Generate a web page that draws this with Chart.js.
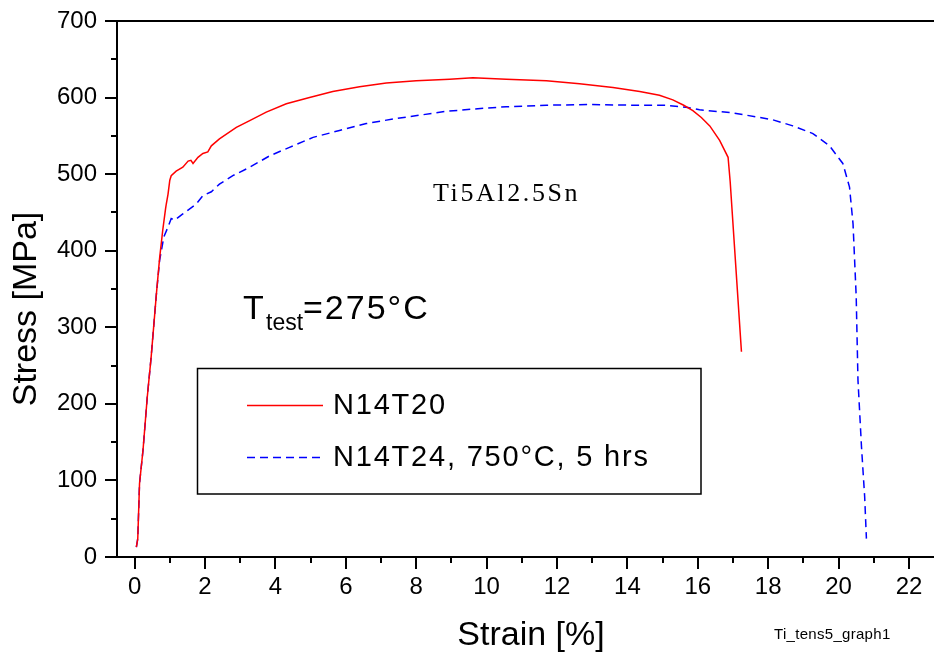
<!DOCTYPE html>
<html>
<head>
<meta charset="utf-8">
<script src="https://cdn.jsdelivr.net/npm/chart.js@4.4.1/dist/chart.umd.min.js"></script>
<style>
  html, body { margin: 0; padding: 0; background: #fff; }
  #wrap { width: 934px; height: 657px; }
</style>
</head>
<body>
<div id="wrap"><canvas id="myChart" width="934" height="657"></canvas></div>
<script>
// tensile curves, strain in %, stress in MPa
const strainN14T20 = [0.05, 0.09, 0.14, 0.24, 0.36, 0.47, 0.62, 0.71, 0.80, 0.88, 0.90, 0.95, 1.00, 1.04, 1.18, 1.37, 1.52, 1.60, 1.66, 1.80, 1.94, 2.08, 2.18, 2.41, 2.89, 3.27, 3.74, 4.31, 4.97, 5.63, 6.39, 7.15, 8.00, 8.95, 9.61, 10.56, 11.70, 12.64, 13.59, 14.35, 14.91, 15.29, 15.60, 15.86, 16.10, 16.34, 16.62, 16.86, 16.92, 17.24];
const stressN14T20 = [13, 24, 96, 140, 209, 261, 344, 390, 427, 455, 461, 474, 492, 498, 504, 509, 517, 518, 514, 522, 527, 529, 537, 546, 561, 570, 581, 592, 600, 608, 614, 619, 622, 624, 626, 624, 622, 618, 613, 608, 603, 597, 590, 583, 574, 563, 544, 522, 490, 268];

const strainN14T24 = [0.05, 0.09, 0.14, 0.24, 0.36, 0.47, 0.62, 0.71, 0.83, 0.95, 1.04, 1.14, 1.37, 1.75, 1.94, 2.18, 2.41, 2.79, 3.27, 3.84, 4.40, 5.07, 5.82, 6.58, 7.34, 8.10, 8.85, 9.61, 10.56, 11.70, 12.93, 14.16, 15.10, 15.72, 16.05, 17.00, 18.13, 18.70, 19.27, 19.74, 20.12, 20.31, 20.41, 20.50, 20.55, 20.65, 20.74, 20.79];
const stressN14T24 = [13, 24, 96, 140, 209, 261, 344, 387, 418, 431, 442, 440, 448, 461, 472, 477, 487, 498, 509, 524, 535, 548, 557, 566, 572, 577, 582, 585, 588, 590, 591, 590, 590, 587, 584, 580, 571, 563, 553, 537, 514, 483, 435, 340, 231, 144, 79, 24];

const seriesLabels = ['N14T20', 'N14T24, 750°C, 5 hrs'];
const strainTicks = [0, 2, 4, 6, 8, 10, 12, 14, 16, 18, 20, 22];
const stressTicks = [0, 100, 200, 300, 400, 500, 600, 700];

const SANS = '"Liberation Sans", Arial, sans-serif';
const SERIF = '"Liberation Serif", "Times New Roman", serif';

function toPoints(xs, ys) {
    return xs.map((x, i) => ({ x: x, y: ys[i] }));
}

// axis frame, inner/outer ticks, texts and the boxed legend
const decorations = {
    id: 'decorations',
    afterDraw(chart) {
        const ctx = chart.ctx;
        const xs = chart.scales.x;
        const ys = chart.scales.y;
        const area = chart.chartArea;
        ctx.save();
        ctx.strokeStyle = '#000';
        ctx.lineWidth = 2;

        // top frame line
        ctx.beginPath();
        ctx.moveTo(area.left - 12, area.top);
        ctx.lineTo(area.right, area.top);
        ctx.stroke();

        // y ticks: major every 100, minor in between
        for (let v = 0; v <= 700; v += 50) {
            const py = Math.round(ys.getPixelForValue(v));
            const len = stressTicks.includes(v) ? 12 : 6;
            ctx.beginPath();
            ctx.moveTo(area.left - len, py);
            ctx.lineTo(area.left, py);
            ctx.stroke();
        }
        // x ticks: major every 2, minor in between
        for (let v = 0; v <= 22; v += 1) {
            const px = Math.round(xs.getPixelForValue(v));
            const len = strainTicks.includes(v) ? 12 : 6;
            ctx.beginPath();
            ctx.moveTo(px, area.bottom);
            ctx.lineTo(px, area.bottom + len);
            ctx.stroke();
        }

        ctx.fillStyle = '#000';
        ctx.textAlign = 'center';
        ctx.textBaseline = 'middle';

        // axis titles
        ctx.font = '34px ' + SANS;
        ctx.fillText('Strain [%]', 531, 636);
        ctx.save();
        ctx.translate(27, 309);
        ctx.rotate(-Math.PI / 2);
        ctx.fillText('Stress [MPa]', 0, 0);
        ctx.restore();

        // alloy name
        ctx.textAlign = 'left';
        ctx.textBaseline = 'alphabetic';
        ctx.font = '26px ' + SERIF;
        ctx.letterSpacing = '2.6px';
        ctx.fillText('Ti5Al2.5Sn', 433, 201);

        // test temperature
        ctx.font = '34px ' + SANS;
        ctx.letterSpacing = '0px';
        ctx.fillText('T', 243, 319);
        ctx.font = '23px ' + SANS;
        ctx.fillText('test', 266, 330);
        ctx.font = '34px ' + SANS;
        ctx.letterSpacing = '2px';
        ctx.fillText('=275°C', 303, 319);

        // legend box
        ctx.letterSpacing = '0px';
        ctx.lineWidth = 1.5;
        ctx.strokeRect(197.5, 368.5, 503.5, 125.5);
        const rows = [405.5, 457.5];
        chart.data.datasets.forEach((ds, i) => {
            ctx.save();
            ctx.strokeStyle = ds.borderColor;
            ctx.lineWidth = ds.borderWidth;
            ctx.setLineDash(ds.borderDash || []);
            ctx.beginPath();
            ctx.moveTo(247, rows[i]);
            ctx.lineTo(323, rows[i]);
            ctx.stroke();
            ctx.restore();
            ctx.font = '29px ' + SANS;
            ctx.letterSpacing = '1.8px';
            ctx.textBaseline = 'middle';
            ctx.fillText(ds.label, 333, rows[i]);
        });

        // file tag
        ctx.letterSpacing = '0.3px';
        ctx.textBaseline = 'alphabetic';
        ctx.font = '15px ' + SANS;
        ctx.fillText('Ti_tens5_graph1', 774, 639);
        ctx.restore();
    }
};

const ctx = document.getElementById('myChart');

let chartJsData = {
    datasets: [{
        label: seriesLabels[0],
        data: toPoints(strainN14T20, stressN14T20),
        borderColor: '#ff0000',
        borderWidth: 1.5,
        pointRadius: 0,
        tension: 0,
        fill: false
    }, {
        label: seriesLabels[1],
        data: toPoints(strainN14T24, stressN14T24),
        borderColor: '#0000ff',
        borderWidth: 1.5,
        borderDash: [8, 5],
        pointRadius: 0,
        tension: 0,
        fill: false
    }]
};

let chartJsOptions = {
    responsive: false,
    animation: false,
    layout: { padding: { top: 21, right: 0, left: 0, bottom: 0 } },
    scales: {
        x: {
            type: 'linear',
            min: -0.5,
            max: 22.71,
            grid: { display: false, drawTicks: false },
            border: { display: true, color: '#000', width: 2 },
            afterFit: (s) => { s.height = 100; s.paddingLeft = 0; s.paddingRight = 0; },
            ticks: {
                stepSize: 1,
                includeBounds: false,
                autoSkip: false,
                maxRotation: 0,
                padding: 16,
                color: '#000',
                font: { family: 'Liberation Sans', size: 24 },
                callback: (v) => strainTicks.includes(v) ? String(v) : ''
            }
        },
        y: {
            type: 'linear',
            min: 0,
            max: 700,
            grid: { display: false, drawTicks: false },
            border: { display: true, color: '#000', width: 2 },
            afterFit: (s) => { s.width = 117; s.paddingTop = 0; s.paddingBottom = 0; },
            ticks: {
                stepSize: 50,
                autoSkip: false,
                padding: 20,
                color: '#000',
                font: { family: 'Liberation Sans', size: 24 },
                callback: (v) => stressTicks.includes(v) ? String(v) : ''
            }
        }
    },
    plugins: {
        legend: { display: false },
        tooltip: { enabled: false }
    }
};

new Chart(ctx, {
    type: 'line',
    data: chartJsData,
    options: chartJsOptions,
    plugins: [decorations]
});
</script>
</body>
</html>
